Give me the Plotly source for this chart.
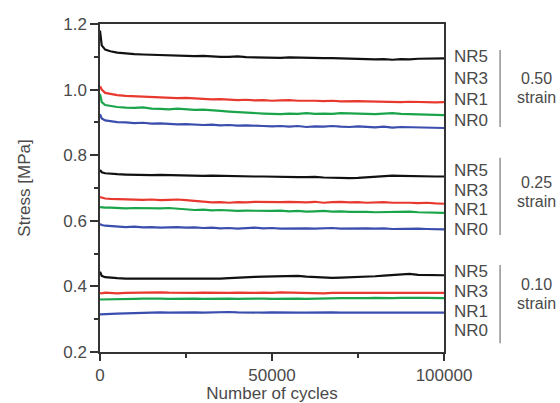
import plotly.graph_objects as go

# ---- data ----
cycles = [0, 500, 1500, 3000, 5000, 7500, 10000, 12500, 15000, 17500,
          20000, 22500, 25000, 27500, 30000, 32500, 35000, 37500, 40000, 42500,
          45000, 47500, 50000, 52500, 55000, 57500, 60000, 62500, 65000, 67500,
          70000, 72500, 75000, 77500, 80000, 82500, 85000, 87500, 90000, 92500,
          95000, 97500, 100000]

# 0.50 strain
nr5_050 = [1.180, 1.135, 1.122, 1.117, 1.113, 1.110, 1.108, 1.107, 1.106, 1.105,
           1.104, 1.104, 1.103, 1.102, 1.103, 1.101, 1.100, 1.100, 1.101, 1.099,
           1.098, 1.098, 1.097, 1.097, 1.098, 1.097, 1.096, 1.097, 1.096, 1.096,
           1.095, 1.095, 1.094, 1.092, 1.092, 1.093, 1.091, 1.093, 1.092, 1.094,
           1.094, 1.095, 1.095]
nr3_050 = [1.010, 1.000, 0.990, 0.986, 0.983, 0.981, 0.980, 0.978, 0.977, 0.975,
           0.976, 0.974, 0.975, 0.973, 0.972, 0.970, 0.971, 0.969, 0.968, 0.969,
           0.967, 0.968, 0.966, 0.967, 0.968, 0.966, 0.967, 0.966, 0.965, 0.966,
           0.964, 0.965, 0.965, 0.964, 0.963, 0.964, 0.963, 0.962, 0.963, 0.962,
           0.963, 0.961, 0.962]
nr1_050 = [0.987, 0.962, 0.953, 0.950, 0.947, 0.945, 0.944, 0.946, 0.942, 0.941,
           0.940, 0.942, 0.939, 0.938, 0.939, 0.936, 0.935, 0.933, 0.931, 0.929,
           0.928, 0.927, 0.926, 0.925, 0.927, 0.926, 0.928, 0.926, 0.927, 0.926,
           0.928, 0.927, 0.925, 0.926, 0.925, 0.927, 0.928, 0.926, 0.925, 0.924,
           0.923, 0.922, 0.922]
nr0_050 = [0.925, 0.912, 0.906, 0.903, 0.901, 0.900, 0.898, 0.899, 0.896, 0.897,
           0.895, 0.894, 0.895, 0.893, 0.892, 0.893, 0.891, 0.892, 0.890, 0.891,
           0.889, 0.889, 0.888, 0.889, 0.887, 0.889, 0.886, 0.888, 0.887, 0.889,
           0.887, 0.886, 0.888, 0.886, 0.885, 0.887, 0.884, 0.886, 0.885, 0.884,
           0.884, 0.883, 0.883]

# 0.25 strain
nr5_025 = [0.755, 0.748, 0.745, 0.743, 0.742, 0.741, 0.740, 0.739, 0.739, 0.740,
           0.739, 0.738, 0.739, 0.738, 0.737, 0.738, 0.737, 0.736, 0.737, 0.736,
           0.735, 0.735, 0.734, 0.735, 0.734, 0.733, 0.733, 0.734, 0.732, 0.731,
           0.731, 0.730, 0.731, 0.733, 0.735, 0.737, 0.738, 0.737, 0.736, 0.737,
           0.736, 0.735, 0.735]
nr3_025 = [0.672, 0.670, 0.668, 0.667, 0.666, 0.666, 0.665, 0.664, 0.665, 0.663,
           0.664, 0.665, 0.663, 0.660, 0.657, 0.656, 0.657, 0.655, 0.657, 0.656,
           0.658, 0.657, 0.656, 0.657, 0.658, 0.657, 0.656, 0.658, 0.655, 0.657,
           0.658, 0.656, 0.657, 0.655, 0.656, 0.657, 0.655, 0.656, 0.655, 0.654,
           0.655, 0.653, 0.652]
nr1_025 = [0.642, 0.641, 0.640, 0.640, 0.639, 0.638, 0.639, 0.638, 0.637, 0.638,
           0.639, 0.637, 0.634, 0.633, 0.634, 0.632, 0.633, 0.631, 0.630, 0.631,
           0.630, 0.631, 0.630, 0.631, 0.629, 0.630, 0.628, 0.629, 0.630, 0.628,
           0.629, 0.627, 0.628, 0.627, 0.626, 0.627, 0.626, 0.627, 0.628, 0.626,
           0.625, 0.625, 0.624]
nr0_025 = [0.590, 0.587, 0.585, 0.584, 0.582, 0.581, 0.582, 0.580, 0.581, 0.579,
           0.580, 0.581, 0.579, 0.580, 0.578, 0.579, 0.577, 0.578, 0.576, 0.578,
           0.579, 0.577, 0.578, 0.576, 0.577, 0.578, 0.577, 0.576, 0.577, 0.578,
           0.576, 0.577, 0.576, 0.577, 0.576, 0.577, 0.575, 0.576, 0.577, 0.576,
           0.575, 0.575, 0.574]

# 0.10 strain
nr5_010 = [0.445, 0.432, 0.428, 0.426, 0.425, 0.424, 0.424, 0.423, 0.424, 0.423,
           0.422, 0.423, 0.424, 0.423, 0.422, 0.423, 0.424, 0.425, 0.427, 0.428,
           0.429, 0.430, 0.431, 0.432, 0.433, 0.432, 0.430, 0.428, 0.427, 0.426,
           0.427, 0.428, 0.427, 0.429, 0.431, 0.433, 0.434, 0.436, 0.438, 0.435,
           0.434, 0.435, 0.434]
nr3_010 = [0.380, 0.379, 0.381, 0.380, 0.379, 0.380, 0.381, 0.380, 0.381, 0.382,
           0.381, 0.380, 0.381, 0.380, 0.381, 0.380, 0.379, 0.380, 0.381, 0.380,
           0.380, 0.381, 0.380, 0.382, 0.381, 0.380, 0.381, 0.380, 0.379, 0.380,
           0.380, 0.381, 0.380, 0.380, 0.381, 0.380, 0.380, 0.381, 0.380, 0.380,
           0.380, 0.380, 0.380]
nr1_010 = [0.360, 0.360, 0.361, 0.361, 0.360, 0.361, 0.362, 0.363, 0.364, 0.363,
           0.362, 0.363, 0.364, 0.363, 0.362, 0.363, 0.362, 0.363, 0.362, 0.363,
           0.364, 0.363, 0.362, 0.363, 0.364, 0.363, 0.362, 0.363, 0.362, 0.363,
           0.364, 0.364, 0.363, 0.364, 0.365, 0.364, 0.364, 0.365, 0.364, 0.365,
           0.365, 0.365, 0.364]
nr0_010 = [0.315, 0.315, 0.316, 0.316, 0.317, 0.318, 0.319, 0.320, 0.321, 0.321,
           0.320, 0.321, 0.320, 0.321, 0.320, 0.321, 0.321, 0.322, 0.321, 0.320,
           0.321, 0.320, 0.321, 0.320, 0.321, 0.320, 0.320, 0.321, 0.320, 0.321,
           0.320, 0.320, 0.321, 0.320, 0.320, 0.319, 0.320, 0.321, 0.320, 0.320,
           0.320, 0.319, 0.320]

sample_names = ["NR5", "NR3", "NR1", "NR0"]
strain_levels = ["0.50", "0.25", "0.10"]
groups = {
    "0.50": [nr5_050, nr3_050, nr1_050, nr0_050],
    "0.25": [nr5_025, nr3_025, nr1_025, nr0_025],
    "0.10": [nr5_010, nr3_010, nr1_010, nr0_010],
}
colors = {"NR5": "#111111", "NR3": "#e8392f", "NR1": "#1ba54b", "NR0": "#3b4eae"}

# label positions (stress units) for the right-side annotations
label_y = {
    "0.50": [1.100, 1.035, 0.971, 0.907],
    "0.25": [0.752, 0.691, 0.633, 0.575],
    "0.10": [0.444, 0.383, 0.325, 0.267],
}
bar_span = {"0.50": (1.121, 0.886), "0.25": (0.792, 0.557), "0.10": (0.465, 0.227)}
strain_text_y = {"0.50": (1.035, 0.977), "0.25": (0.718, 0.660), "0.10": (0.407, 0.349)}

FONT = "Liberation Sans, Arial, sans-serif"
TXT = "#4a4a4a"

fig = go.Figure()
for lvl in strain_levels:
    for name, ys in zip(sample_names, groups[lvl]):
        fig.add_trace(go.Scatter(
            x=cycles, y=ys, mode="lines", name=f"{name} {lvl}",
            line=dict(color=colors[name], width=2.2), showlegend=False))

annotations = []
shapes = []
for lvl in strain_levels:
    for name, yy in zip(sample_names, label_y[lvl]):
        annotations.append(dict(x=1.024, y=yy, xref="paper", yref="y", text=name,
                                showarrow=False, xanchor="left", yanchor="middle",
                                font=dict(family=FONT, size=17, color=TXT)))
    y0, y1 = bar_span[lvl]
    shapes.append(dict(type="line", xref="paper", yref="y", x0=1.163, x1=1.163,
                       y0=y0, y1=y1, line=dict(color="#777777", width=1.2)))
    ya, yb = strain_text_y[lvl]
    annotations.append(dict(x=1.27, y=ya, xref="paper", yref="y", text=lvl,
                            showarrow=False, xanchor="center", yanchor="middle",
                            font=dict(family=FONT, size=16, color=TXT)))
    annotations.append(dict(x=1.27, y=yb, xref="paper", yref="y", text="strain",
                            showarrow=False, xanchor="center", yanchor="middle",
                            font=dict(family=FONT, size=16, color=TXT)))

axis_common = dict(showgrid=False, zeroline=False, showline=True, mirror=True,
                   automargin=False,
                   linecolor="#333333", linewidth=1.5, ticks="outside",
                   tickcolor="#333333", tickwidth=1.5,
                   tickfont=dict(family=FONT, size=17, color=TXT))

fig.update_layout(
    width=560, height=403,
    margin=dict(l=100, r=116, t=24, b=51),
    plot_bgcolor="white", paper_bgcolor="white",
    xaxis=dict(range=[0, 100000], tickvals=[0, 50000, 100000], tickformat="d",
               ticklen=7,
               minor=dict(tickvals=[25000, 75000], ticks="outside", ticklen=4,
                          tickcolor="#333333", tickwidth=1.5),
               title=dict(text="Number of cycles", standoff=8,
                          font=dict(family=FONT, size=17, color=TXT)),
               **axis_common),
    yaxis=dict(range=[0.2, 1.2], tickvals=[0.2, 0.4, 0.6, 0.8, 1.0, 1.2],
               tickformat=".1f", ticklen=8,
               minor=dict(tickvals=[0.3, 0.5, 0.7, 0.9, 1.1], ticks="outside",
                          ticklen=4, tickcolor="#333333", tickwidth=1.5),
               title=dict(text="Stress [MPa]", standoff=28,
                          font=dict(family=FONT, size=17, color=TXT)),
               **axis_common),
    annotations=annotations,
    shapes=shapes,
)

fig.write_html("out.html", config={"displayModeBar": False},
               post_script="document.body.style.margin='0';document.body.style.overflow='hidden';")
